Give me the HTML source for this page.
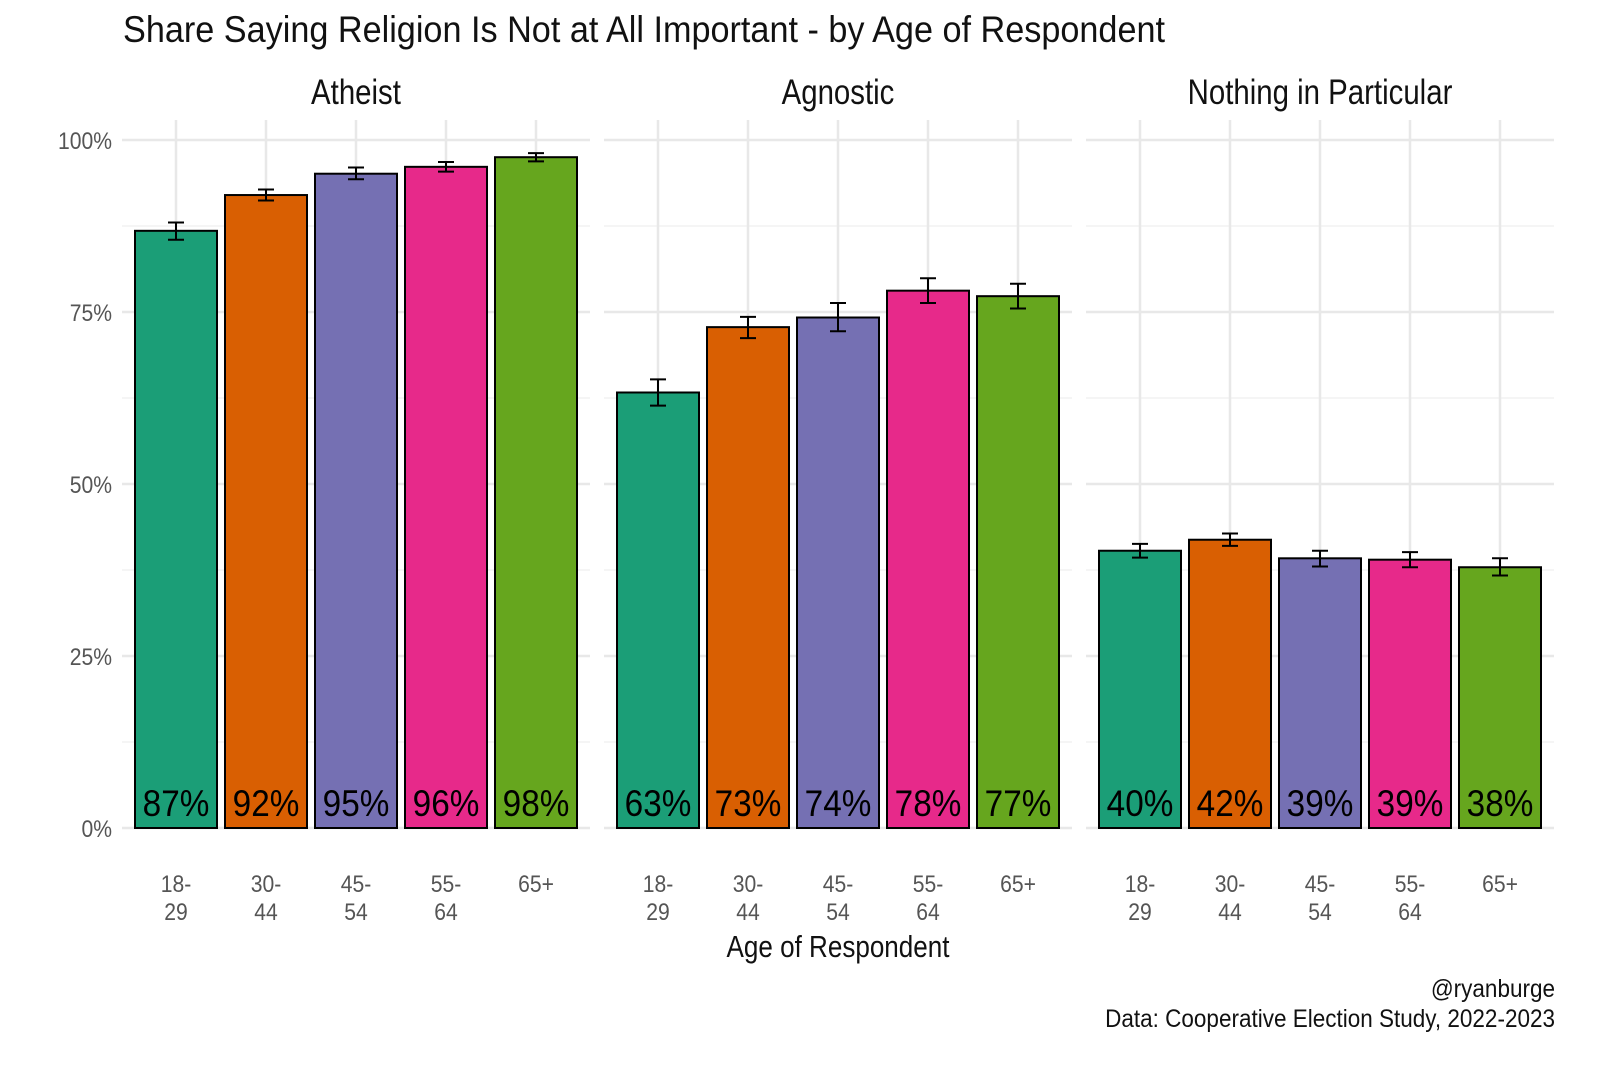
<!DOCTYPE html>
<html><head><meta charset="utf-8"><style>
body{margin:0;background:#fff}
svg{display:block;font-family:"Liberation Sans Narrow","Liberation Sans",sans-serif}
</style></head><body>
<svg id="c" width="1600" height="1066"></svg>
<script>
const panels=["Atheist","Agnostic","Nothing in Particular"];
const ages=["18-\n29","30-\n44","45-\n54","55-\n64","65+"];
const values=[[86.8,92.0,95.1,96.1,97.5],[63.3,72.8,74.2,78.1,77.3],[40.3,41.9,39.2,39.0,37.9]];
const lowers=[[85.5,91.2,94.3,95.4,96.9],[61.4,71.2,72.2,76.3,75.5],[39.3,41.0,38.0,37.9,36.7]];
const uppers=[[88.0,92.8,96.0,96.8,98.1],[65.2,74.3,76.3,79.9,79.1],[41.3,42.8,40.3,40.1,39.2]];
const labels=[["87%","92%","95%","96%","98%"],["63%","73%","74%","78%","77%"],["40%","42%","39%","39%","38%"]];
const yTicks=[0,25,50,75,100];
const colors=["#1b9e77","#d95f02","#7570b3","#e7298a","#66a61e"];
const svg=document.getElementById('c');
const NS="http://www.w3.org/2000/svg";
function el(t,a,txt){const e=document.createElementNS(NS,t);for(const k in a)e.setAttribute(k,a[k]);if(txt!==undefined)e.textContent=txt;svg.appendChild(e);return e;}
function squeeze(e,f){const L=e.getComputedTextLength();e.setAttribute('textLength',L*f);e.setAttribute('lengthAdjust','spacingAndGlyphs');}
const y=v=>828-v*6.88;
const pLeft=[122,604,1086],pW=468;
const x=(p,i)=>pLeft[p]+54+i*90;
let t=el('text',{x:123,y:42,'font-size':37,fill:'#111'},'Share Saying Religion Is Not at All Important - by Age of Respondent');

t.setAttribute('textLength',1042);t.setAttribute('lengthAdjust','spacingAndGlyphs');
panels.forEach((name,p)=>{
  for(let m=12.5;m<100;m+=25){const g=el('line',{x1:pLeft[p],x2:pLeft[p]+pW,y1:y(m),y2:y(m),stroke:'#f2f2f2','stroke-width':1.5});}
  yTicks.forEach(v=>{const g=el('line',{x1:pLeft[p],x2:pLeft[p]+pW,y1:y(v),y2:y(v),stroke:'#e8e8e8','stroke-width':2.5});});
  ages.forEach((a,i)=>{const g=el('line',{x1:x(p,i),x2:x(p,i),y1:120,y2:828,stroke:'#e8e8e8','stroke-width':2.5});});
  const s=el('text',{x:pLeft[p]+pW/2,y:104,'font-size':35,'text-anchor':'middle',fill:'#111'},name);
  
  squeeze(s,0.84);
  values[p].forEach((v,i)=>{
    const cx=x(p,i);
    const r=el('rect',{x:cx-41,y:y(v),width:82,height:y(0)-y(v),fill:colors[i],stroke:'#000','stroke-width':2});
    
    const e1=el('path',{d:`M${cx-8},${y(uppers[p][i])}H${cx+8}M${cx},${y(uppers[p][i])}V${y(lowers[p][i])}M${cx-8},${y(lowers[p][i])}H${cx+8}`,stroke:'#000','stroke-width':2,fill:'none'});
    
    const l=el('text',{x:cx,y:816,'font-size':37,'text-anchor':'middle',fill:'#000'},labels[p][i]);
    
    squeeze(l,0.9);
    const parts=ages[i].split('\n');
    parts.forEach((pt,k)=>{const tk=el('text',{x:cx,y:892+k*28,'font-size':24,'text-anchor':'middle',fill:'#555'},pt);squeeze(tk,0.88);});
  });
});
yTicks.forEach(v=>{const tk=el('text',{x:112,y:y(v)+9,'font-size':24,'text-anchor':'end',fill:'#555'},v+'%');squeeze(tk,0.88);});
t=el('text',{x:838,y:957,'font-size':31,'text-anchor':'middle',fill:'#111'},'Age of Respondent');
squeeze(t,0.84);
t=el('text',{x:1555,y:997,'font-size':25,'text-anchor':'end',fill:'#111'},'@ryanburge');
squeeze(t,0.9);
t=el('text',{x:1555,y:1027,'font-size':25,'text-anchor':'end',fill:'#111'},'Data: Cooperative Election Study, 2022-2023');
squeeze(t,0.9);
</script>
</body></html>
